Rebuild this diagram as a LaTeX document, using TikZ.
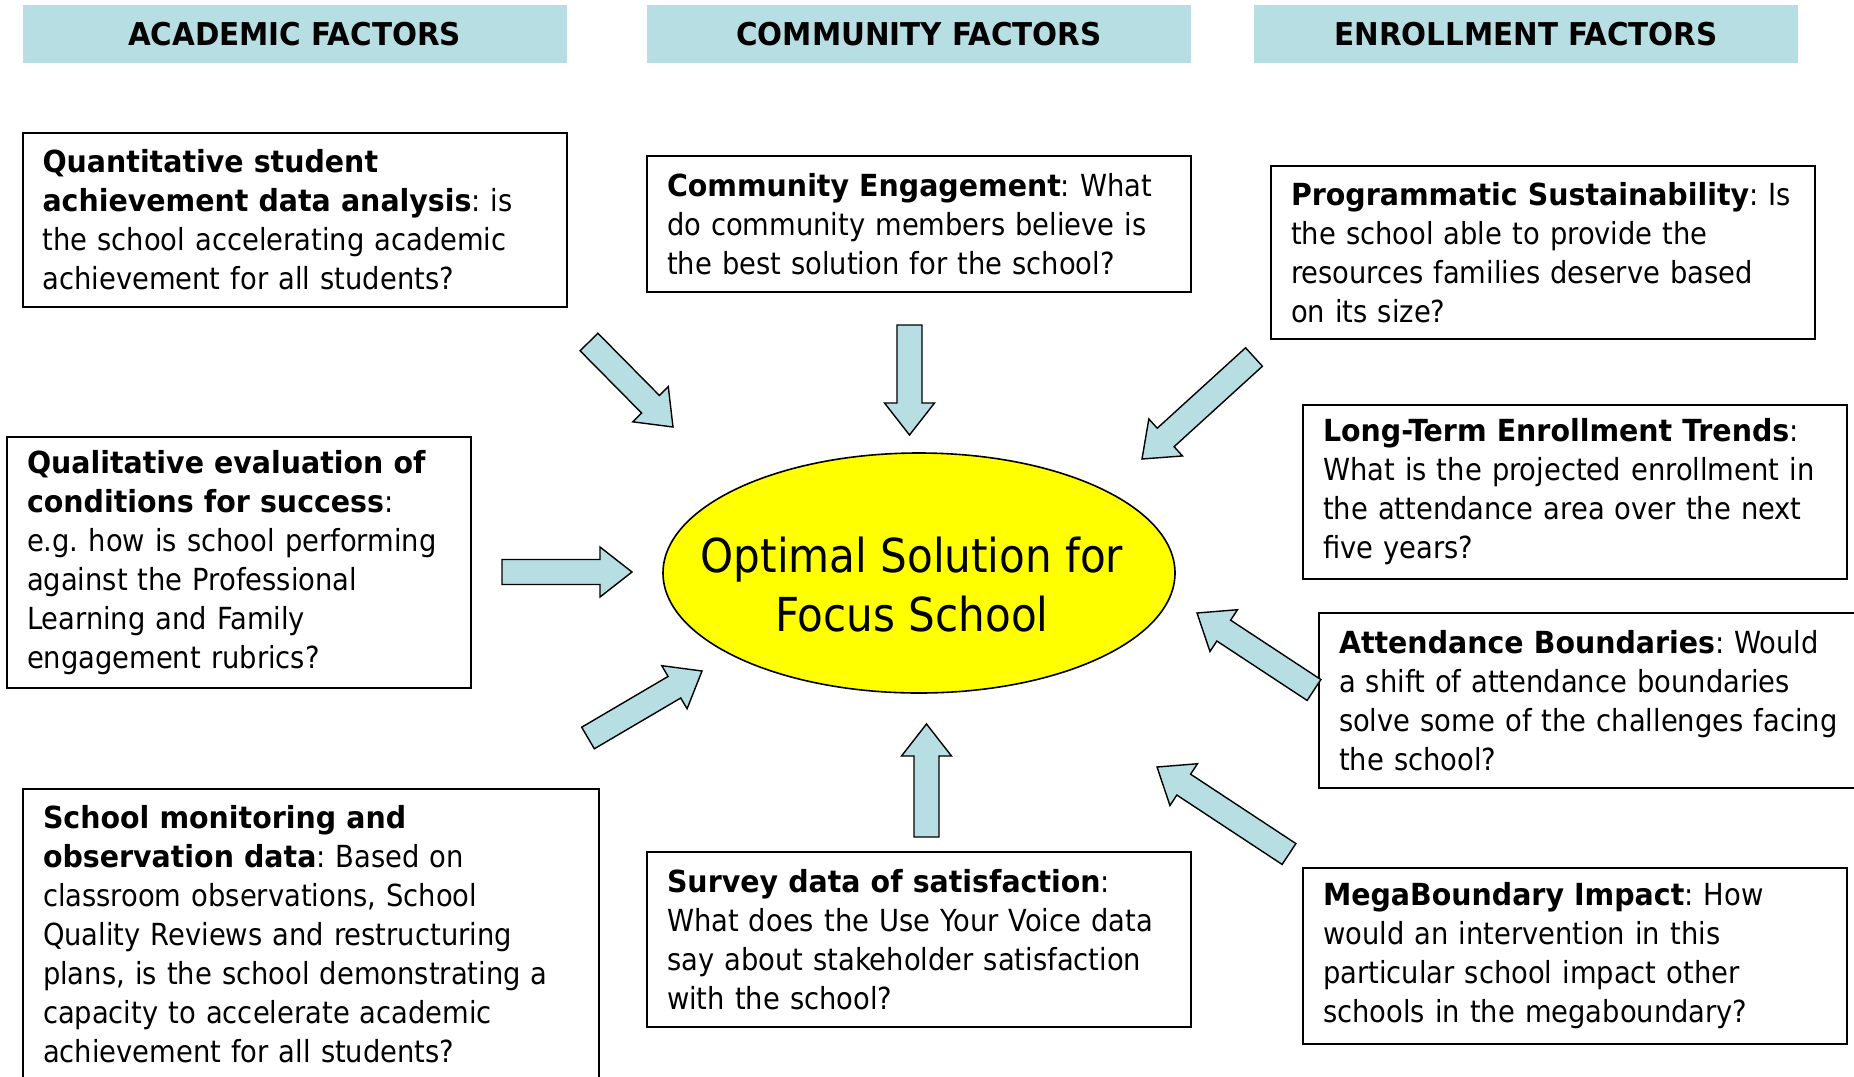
\documentclass[tikz,border=0pt]{standalone}
\usepackage{fontspec}
\setmainfont{DejaVu Sans Condensed}[BoldFeatures={FakeStretch=1.04}]
\usetikzlibrary{calc,shapes.geometric}

\definecolor{factorblue}{HTML}{B7DEE2}
\definecolor{focusyellow}{HTML}{FFFF00}

\begin{document}
\frenchspacing
\begin{tikzpicture}[x=0.5pt, y=-0.5pt,
    factor/.style={fill=factorblue, minimum width=272pt, minimum height=29pt,
      inner sep=0pt, font=\fontsize{15.7}{19}\selectfont\bfseries},
    qbox/.style={draw, line width=1pt, align=left, inner xsep=10pt,
      font=\fontsize{15.2}{19.5}\selectfont},
    focus/.style={ellipse, draw, line width=0.8pt, fill=focusyellow,
      minimum width=256pt, minimum height=120pt, inner sep=0pt},
    fatarrow/.style={draw, line width=0.7pt, fill=factorblue, line join=miter}]
  \useasboundingbox (0,0) rectangle (1854,1077);

  \node[factor] (acad)  at (294.5,34) {ACADEMIC FACTORS};
  \node[factor] (comm)  at (919,34)   {COMMUNITY FACTORS};
  \node[factor] (enrol) at (1526,34)  {ENROLLMENT FACTORS};

  \node[qbox, text width=252pt, minimum height=87pt] (quant) at (294.5,220)
    {\textbf{Quantitative student}\\ \textbf{achievement data analysis}: is\\
     the school accelerating academic\\ achievement for all students?};
  \node[qbox, text width=212pt, minimum height=125.5pt] (qual) at (239,562.5)
    {\textbf{Qualitative evaluation of}\\ \textbf{conditions for success}:\\
     e.g. how is school performing\\ against the Professional\\
     Learning and Family\\ engagement rubrics?};
  \node[qbox, text width=268pt, minimum height=145.5pt] (monitor) at (311,934.5)
    {\textbf{School monitoring and}\\ \textbf{observation data}: Based on\\
     classroom observations, School\\ Quality Reviews and restructuring\\
     plans, is the school demonstrating a\\ capacity to accelerate academic\\
     achievement for all students?};
  \node[qbox, text width=252pt, minimum height=68pt] (engage) at (919,224)
    {\textbf{Community Engagement}: What\\ do community members believe is\\
     the best solution for the school?};
  \node[qbox, text width=252pt, minimum height=87.5pt] (survey) at (919,939.5)
    {\textbf{Survey data of satisfaction}:\\ What does the Use Your Voice data\\
     say about stakeholder satisfaction\\ with the school?};
  \node[qbox, text width=252pt, minimum height=86.5pt] (program) at (1543,252.5)
    {\textbf{Programmatic Sustainability}: Is\\ the school able to provide the\\
     resources families deserve based\\ on its size?};
  \node[qbox, text width=252pt, minimum height=87pt] (trends) at (1575,492)
    {\textbf{Long-Term Enrollment Trends}:\\ What is the projected enrollment in\\
     the attendance area over the next\\ five years?};
  \node[qbox, text width=252pt, minimum height=87.5pt] (bounds) at (1591,700.5)
    {\textbf{Attendance Boundaries}: Would\\ a shift of attendance boundaries\\
     solve some of the challenges facing\\ the school?};
  \node[qbox, text width=252pt, minimum height=88pt] (mega) at (1575,956)
    {\textbf{MegaBoundary Impact}: How\\ would an intervention in this\\
     particular school impact other\\ schools in the megaboundary?};

  \node[focus, label={[xshift=-3.5pt, yshift=-6pt, align=center,
      font=\fontsize{23.4}{29.5}\selectfont]center:Optimal Solution for\\Focus School}]
    (focus) at (919,573) {};

  % tails and heads of the block arrows
  \coordinate (T1) at (589,342);    \coordinate (H1) at (673,427);
  \coordinate (T2) at (909.5,325);  \coordinate (H2) at (909.5,435);
  \coordinate (T3) at (1254,357);   \coordinate (H3) at (1142,459);
  \coordinate (T4) at (502,572);    \coordinate (H4) at (632,572);
  \coordinate (T5) at (588,738);    \coordinate (H5) at (702,671);
  \coordinate (T6) at (926.5,837);  \coordinate (H6) at (926.5,724);
  \coordinate (T7) at (1314,690);   \coordinate (H7) at (1197,613);
  \coordinate (T8) at (1289,854);   \coordinate (H8) at (1157,767);

  \foreach \i in {1,...,8} {
    \coordinate (N) at ($(H\i)!16pt!(T\i)$);
    \draw[fatarrow] ($(T\i)!6.25pt!90:(H\i)$) -- ($(N)!6.25pt!90:(H\i)$)
      -- ($(N)!12.5pt!90:(H\i)$) -- (H\i) -- ($(N)!12.5pt!-90:(H\i)$)
      -- ($(N)!6.25pt!-90:(H\i)$) -- ($(T\i)!6.25pt!-90:(H\i)$) -- cycle;
  }
\end{tikzpicture}
\end{document}
